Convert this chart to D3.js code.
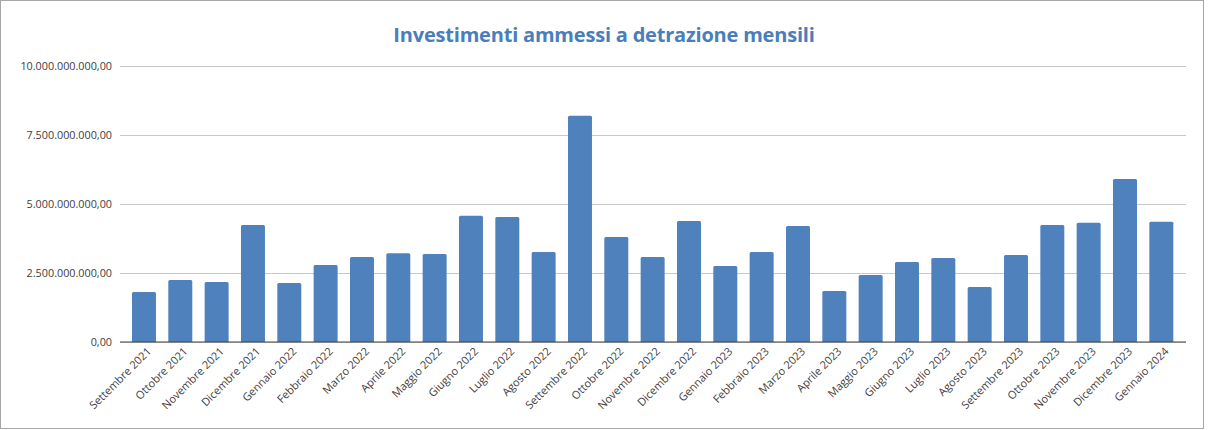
<!DOCTYPE html>
<html><head><meta charset="utf-8">
<script src="https://cdn.jsdelivr.net/npm/d3@7"></script>
<style>body{margin:0;background:#fff}svg{display:block}</style>
</head><body><svg id="c" width="1208" height="430"></svg>
<script>
const categories = ["Settembre 2021","Ottobre 2021","Novembre 2021","Dicembre 2021","Gennaio 2022","Febbraio 2022","Marzo 2022","Aprile 2022","Maggio 2022","Giugno 2022","Luglio 2022","Agosto 2022","Settembre 2022","Ottobre 2022","Novembre 2022","Dicembre 2022","Gennaio 2023","Febbraio 2023","Marzo 2023","Aprile 2023","Maggio 2023","Giugno 2023","Luglio 2023","Agosto 2023","Settembre 2023","Ottobre 2023","Novembre 2023","Dicembre 2023","Gennaio 2024"];
const values = [1.81e9,2.25e9,2.17e9,4.24e9,2.14e9,2.79e9,3.08e9,3.22e9,3.19e9,4.57e9,4.53e9,3.26e9,8.20e9,3.80e9,3.08e9,4.38e9,2.75e9,3.26e9,4.20e9,1.85e9,2.43e9,2.90e9,3.04e9,1.99e9,3.15e9,4.24e9,4.32e9,5.91e9,4.36e9];
const yTicks = [0,2.5e9,5e9,7.5e9,10e9];
const title = "Investimenti ammessi a detrazione mensili";

const svg = d3.select("#c");
const font = "'Open Sans', sans-serif";
svg.append("rect").attr("x",0.5).attr("y",0.5).attr("width",1203).attr("height",428)
  .attr("fill","#fff").attr("stroke","#a6a6a6");
const m = {l:120, r:1186, t:66, b:342};
const x = d3.scaleBand().domain(categories).range([125.8,1179.5]).paddingInner(0.34).paddingOuter(0.17);
const y = d3.scaleLinear().domain([0,10e9]).range([m.b,m.t]);
const fmt = v => { const s = d3.format(",.2f")(v); return s.replace(/,/g,"#").replace(".",",").replace(/#/g,"."); };

const ya = svg.append("g").attr("transform",`translate(${m.l},0)`)
  .call(d3.axisLeft(y).tickValues(yTicks).tickSize(-(m.r-m.l)).tickPadding(8).tickFormat(fmt));
ya.select(".domain").remove();
ya.selectAll(".tick line").attr("stroke","#c8c8c8");
ya.selectAll(".tick text").attr("fill","#404040").style("font-family",font).style("font-size","10.8px");

svg.append("g").selectAll("path").data(values).join("path")
  .attr("fill","#4f81bd")
  .attr("d",(d,i)=>{const x0=x(categories[i]), w=x.bandwidth(), y0=y(d), r=1.5, yb=y(0);
    return `M${x0},${yb}V${y0+r}Q${x0},${y0} ${x0+r},${y0}H${x0+w-r}Q${x0+w},${y0} ${x0+w},${y0+r}V${yb}Z`;});

svg.append("line").attr("x1",m.l).attr("x2",m.r).attr("y1",m.b).attr("y2",m.b)
  .attr("stroke","#404040").attr("stroke-width",1.2);
const xa = svg.append("g").attr("transform",`translate(0,${m.b})`)
  .call(d3.axisBottom(x).tickSize(0).tickPadding(0));
xa.select(".domain").remove();
xa.selectAll(".tick text").attr("fill","#404040").style("font-family",font).style("font-size","11px")
  .attr("text-anchor","end").attr("dy","0").attr("transform","translate(8,10) rotate(-45)");

svg.append("text").attr("x",604).attr("y",42).attr("text-anchor","middle")
  .attr("fill","#4a7ebb").style("font-family",font).style("font-weight","bold").style("font-size","20px").style("letter-spacing","-0.2px")
  .text(title);
</script></body></html>
